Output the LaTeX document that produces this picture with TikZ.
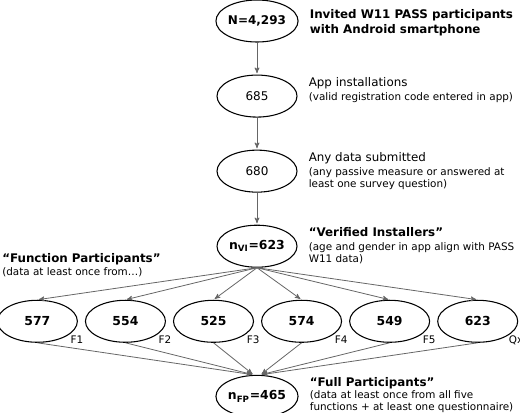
\documentclass[tikz,border=0pt]{standalone}
\usepackage{fontspec}
\setmainfont{DejaVu Sans}
\usepackage{tikz}
\usetikzlibrary{arrows,shapes.geometric,positioning}

\begin{document}
\begin{tikzpicture}
	[x=0.75pt,y=0.75pt,->,>=stealth',shorten >=1pt,
		ell/.style={ellipse,draw,line width=0.8pt,minimum width=60pt,minimum height=31.5pt,inner sep=0pt,font=\fontsize{9}{11}\selectfont},
		fn/.style={ell,font=\fontsize{9.3}{11}\selectfont\bfseries},
		headtext/.style={anchor=base west,inner sep=0pt,align=left,font=\fontsize{8.9}{11.25}\selectfont},
		subtext/.style={anchor=base west,inner sep=0pt,align=left,font=\fontsize{7.8}{9}\selectfont},
		flabel/.style={anchor=base west,inner sep=0pt,font=\fontsize{7.8}{9}\selectfont},
		link/.style={draw=black!60,line width=0.6pt}]

	\useasboundingbox (0,0) rectangle (520,-412);

	\node[ell,font=\fontsize{9}{11}\selectfont\bfseries] (N) at (257,-21) {N=4,293};
	\node[ell] (inst) [below=24pt of N] {685};
	\node[ell] (data) [below=24pt of inst] {680};
	\node[ell,font=\fontsize{9.3}{11}\selectfont\bfseries] (vi) [below=24pt of data] {n\textsubscript{VI}=623};

	\node[fn] (f3) [below=24pt of vi,xshift=-32.625pt] {525};
	\node[fn] (f2) [left=5.25pt of f3] {554};
	\node[fn] (f1) [left=5.25pt of f2] {577};
	\node[fn] (f4) [right=5.25pt of f3] {574};
	\node[fn] (f5) [right=5.25pt of f4] {549};
	\node[fn] (qx) [right=5.25pt of f5] {623};

	\node[ell,font=\fontsize{9.3}{11}\selectfont\bfseries] (fp) [below=24pt of f3,xshift=32.625pt] {n\textsubscript{FP}=465};
	\coordinate (fpl) at ([xshift=-2.6pt]fp.north);
	\coordinate (fpr) at ([xshift=2.6pt]fp.north);

	% texts beside the column (base = last line)
	\node[headtext,font=\fontsize{8.9}{11.25}\selectfont\bfseries] (tN) at ([shift={(11,-12)}]N.east) {Invited W11 PASS participants\\with Android smartphone};
	\node[headtext] (tinst) at ([shift={(11,10)}]inst.east) {App installations};
	\node[subtext] (sinst) at ([shift={(11,-4)}]inst.east) {(valid registration code entered in app)};
	\node[headtext] (tdata) at ([shift={(11,10)}]data.east) {Any data submitted};
	\node[subtext] (sdata) at ([shift={(11,-16)}]data.east) {(any passive measure or answered at\\least one survey question)};
	\node[headtext,font=\fontsize{8.9}{11.25}\selectfont\bfseries] (tvi) at ([shift={(11,10)}]vi.east) {“Verified Installers”};
	\node[subtext] (svi) at ([shift={(11,-16)}]vi.east) {(age and gender in app align with PASS\\W11 data)};
	\node[headtext,font=\fontsize{8.9}{11.25}\selectfont\bfseries] (tfp) at ([shift={(11,10)}]fp.east) {“Full Participants”};
	\node[subtext] (sfp) at ([shift={(11,-14)}]fp.east) {(data at least once from all five\\functions + at least one questionnaire)};
	\node[headtext,font=\fontsize{8.9}{11.25}\selectfont\bfseries] (tfn) at (2,-262) {“Function Participants”};
	\node[subtext] (sfn) at (2,-275) {(data at least once from…)};

	% function labels
	\node[flabel] at ([shift={(33,-22)}]f1.center) {F1};
	\node[flabel] at ([shift={(33,-22)}]f2.center) {F2};
	\node[flabel] at ([shift={(33,-22)}]f3.center) {F3};
	\node[flabel] at ([shift={(33,-22)}]f4.center) {F4};
	\node[flabel] at ([shift={(33,-22)}]f5.center) {F5};
	\node[flabel] at ([shift={(31,-22)}]qx.center) {Qx};

	\path[every edge/.style={link}]
	(N) edge (inst)
	(inst) edge (data)
	(data) edge (vi)
	(vi.south) edge (f1.north)
	(vi.south) edge (f2.north)
	(vi.south) edge (f3.north)
	(vi.south) edge (f4.north)
	(vi.south) edge (f5.north)
	(vi.south) edge (qx.north)
	(f1.south) edge (fpl)
	(f2.south) edge (fpl)
	(f3.south) edge (fpl)
	(f4.south) edge (fpr)
	(f5.south) edge (fpr)
	(qx.south) edge (fpr)
	;

\end{tikzpicture}
\end{document}
